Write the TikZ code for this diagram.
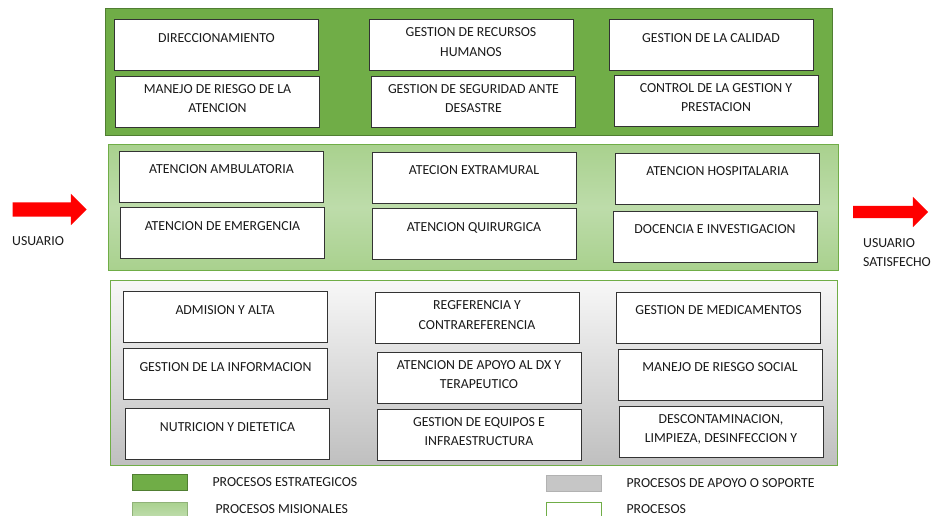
\documentclass[tikz,border=0pt]{standalone}
\usepackage{fontspec}
\setmainfont{Carlito}
\usetikzlibrary{shapes.arrows, positioning}

\definecolor{estrat}{HTML}{70AD47}
\definecolor{estratdark}{HTML}{507E32}
\definecolor{misio}{HTML}{A9D18E}
\definecolor{misiolight}{HTML}{BDDCAA}
\definecolor{txtgray}{HTML}{1A1A1A}

\begin{document}
\begin{tikzpicture}[
    x=1pt, y=-1pt,
    font=\fontsize{13.8}{19.5}\selectfont,
    text=txtgray,
    band/.style={line width=1pt, inner sep=0pt},
    procbox/.style={draw=black!80, line width=0.9pt, fill=white, minimum width=204pt, minimum height=51pt, align=center, inner sep=2pt, text depth=6pt},
    oneline/.style={text depth=14pt},
    bigarrow/.style={single arrow, fill=red, draw=none, single arrow head indent=0pt},
    swatch/.style={minimum width=55pt, minimum height=16pt, inner sep=0pt, line width=0.8pt},
    legtext/.style={inner sep=0pt}
]
    \useasboundingbox (0,0) rectangle (937,516);

    % Bands
    \node[band, fill=estrat, draw=estratdark, minimum width=727pt, minimum height=127pt] (estrategicos) at (468.5,72.5) {};
    \node[band, top color=misio, bottom color=misio, middle color=misiolight, draw=estrat, minimum width=730pt, minimum height=125pt] (misionales) at (473,207.5) {};
    \node[band, top color=gray!6, bottom color=gray!50, draw=estrat, minimum width=727pt, minimum height=185pt] (apoyo) at (473.5,372.5) {};

    % Procesos estrategicos
    \node[procbox, oneline] (direcc) at (216.5,45) {DIRECCIONAMIENTO};
    \node[procbox] (riesgoat) at (217.5,101.5) {MANEJO DE RIESGO DE LA\\ATENCION};
    \node[procbox] (rrhh) at (471,45) {GESTION DE RECURSOS\\HUMANOS};
    \node[procbox] (desastre) at (473.5,101.5) {GESTION DE SEGURIDAD ANTE\\DESASTRE};
    \node[procbox, oneline] (calidad) at (711,45) {GESTION DE LA CALIDAD};
    \node[procbox] (control) at (716,100.5) {CONTROL DE LA GESTION Y\\PRESTACION};

    % Procesos misionales
    \node[procbox, oneline] (ambul) at (221.5,176.5) {ATENCION AMBULATORIA};
    \node[procbox, oneline] (emerg) at (222.5,233) {ATENCION DE EMERGENCIA};
    \node[procbox, oneline] (extram) at (474,177.5) {ATECION EXTRAMURAL};
    \node[procbox, oneline] (quirur) at (474,234) {ATENCION QUIRURGICA};
    \node[procbox, oneline] (hospit) at (717.5,178.5) {ATENCION HOSPITALARIA};
    \node[procbox, oneline] (docencia) at (715,236.5) {DOCENCIA E INVESTIGACION};

    % Procesos de apoyo
    \node[procbox, oneline] (admision) at (225,317) {ADMISION Y ALTA};
    \node[procbox, oneline] (informac) at (225.5,374) {GESTION DE LA INFORMACION};
    \node[procbox, oneline] (nutric) at (227.5,434) {NUTRICION Y DIETETICA};
    \node[procbox] (referen) at (477,318) {REGFERENCIA Y\\CONTRAREFERENCIA};
    \node[procbox] (apoyodx) at (479,377.5) {ATENCION DE APOYO AL DX Y\\TERAPEUTICO};
    \node[procbox] (equipos) at (479,434.5) {GESTION DE EQUIPOS E\\INFRAESTRUCTURA};
    \node[procbox, oneline] (medicam) at (718.5,317.5) {GESTION DE MEDICAMENTOS};
    \node[procbox, oneline] (riesgosoc) at (720,374.5) {MANEJO DE RIESGO SOCIAL};
    \node[procbox] (descont) at (721,431.5) {DESCONTAMINACION,\\LIMPIEZA, DESINFECCION Y};

    % Usuario
    \node[bigarrow, minimum height=74pt, inner sep=7pt, single arrow head extend=8.5pt] (inarrow) at (46,209.5) {};
    \node[legtext, anchor=west] (usuario) at (12,241) {USUARIO};
    \node[bigarrow, minimum height=75pt, inner sep=6pt, single arrow head extend=9pt] (outarrow) at (887.5,212) {};
    \node[legtext, align=left, anchor=north west] (satisf) at (863,238) {USUARIO\\SATISFECHO};

    % Legend
    \node[swatch, fill=estrat, draw=estratdark] (swest) at (159.5,482) {};
    \node[legtext, right=25pt of swest] (lgest) {PROCESOS ESTRATEGICOS};
    \node[swatch, top color=misio, bottom color=misiolight, draw=misio!85!black, minimum height=14pt] (swmis) at (159.5,509) {};
    \node[legtext, right=28pt of swmis] (lgmis) {PROCESOS MISIONALES};
    \node[swatch, fill=gray!45, draw=gray!60] (swapo) at (573.5,483.5) {};
    \node[legtext, right=25pt of swapo] (lgapo) {PROCESOS DE APOYO O SOPORTE};
    \node[swatch, fill=white, draw=estrat, minimum height=14pt] (swproc) at (573.5,509) {};
    \node[legtext, right=25pt of swproc] (lgproc) {PROCESOS};

\end{tikzpicture}
\end{document}
